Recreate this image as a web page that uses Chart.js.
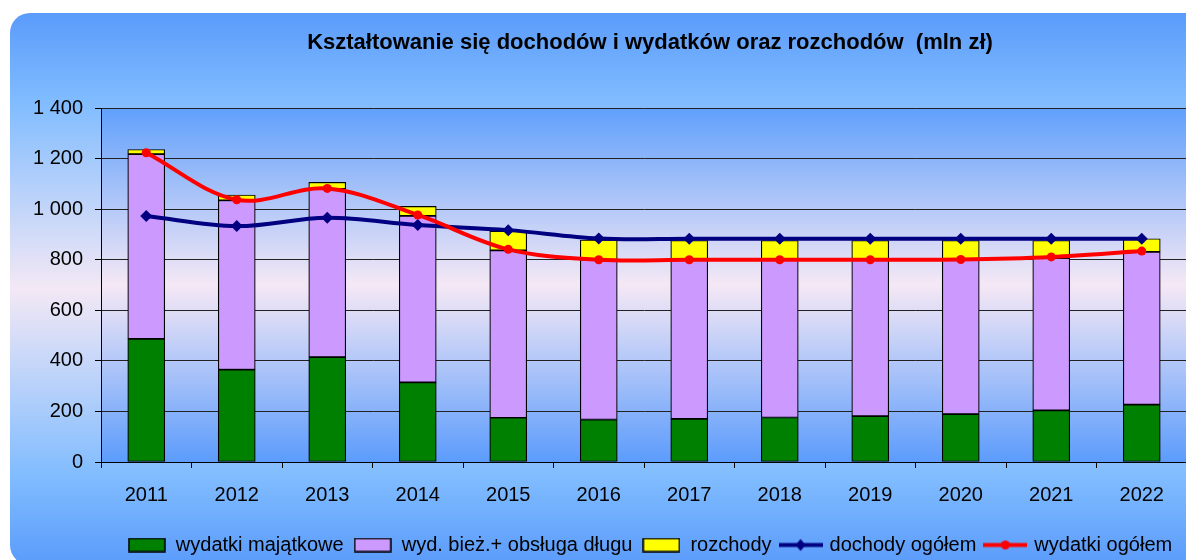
<!DOCTYPE html>
<html>
<head>
<meta charset="utf-8">
<script src="https://cdn.jsdelivr.net/npm/chart.js@4.4.1/dist/chart.umd.min.js"></script>
<style>
  html, body { margin: 0; padding: 0; background: #fff; overflow: hidden; }
  #wrap { width: 1186px; height: 560px; overflow: hidden; }
</style>
</head>
<body>
<div id="wrap"><canvas id="chart" width="1300" height="565"></canvas></div>
<script>
/* global Chart */

const years = ['2011', '2012', '2013', '2014', '2015', '2016', '2017', '2018', '2019', '2020', '2021', '2022'];
const majatkowe = [487, 365, 415, 315, 175, 168, 171, 176, 181, 189, 204, 227];
const biezace = [731, 670, 665, 658, 662, 632, 629, 624, 619, 611, 602, 604];
const rozchody = [18, 21, 26, 38, 76, 78, 76, 76, 76, 76, 70, 52];
const dochody = [973, 933, 966, 937, 917, 884, 883, 883, 883, 883, 883, 883];
const wydatki = [1223, 1037, 1082, 977, 841, 800, 800, 800, 800, 801, 811, 834];
const yTicks = [0, 200, 400, 600, 800, 1000, 1200, 1400];

const FONT = "'Liberation Sans', Arial, sans-serif";

function fmt(v) {
  return String(v).replace(/\B(?=(\d{3})+(?!\d))/g, ' ');
}

// small canvases used as legend symbols
function barIcon(color) {
  const c = document.createElement('canvas');
  c.width = 38; c.height = 15;
  const x = c.getContext('2d');
  x.fillStyle = color;
  x.fillRect(1, 1, 36, 13);
  x.strokeStyle = '#000';
  x.lineWidth = 1.5;
  x.strokeRect(1, 1, 36, 13);
  return c;
}

function lineIcon(color, marker) {
  const c = document.createElement('canvas');
  c.width = 44; c.height = 15;
  const x = c.getContext('2d');
  x.strokeStyle = color;
  x.lineWidth = 4;
  x.beginPath();
  x.moveTo(0, 7.5); x.lineTo(44, 7.5);
  x.stroke();
  x.fillStyle = color;
  x.beginPath();
  if (marker === 'diamond') {
    x.moveTo(22, 1.5); x.lineTo(27, 7.5); x.lineTo(22, 13.5); x.lineTo(17, 7.5);
  } else {
    x.arc(22, 7.5, 4.5, 0, Math.PI * 2);
  }
  x.closePath();
  x.fill();
  return c;
}

const backdrop = {
  id: 'backdrop',
  beforeDraw(chart) {
    const { ctx, chartArea } = chart;
    const x0 = 10, y0 = 13, x1 = 1290, y1 = 565, r = 20;
    ctx.save();
    const g = ctx.createLinearGradient(0, y0, 0, y1);
    g.addColorStop(0, '#5b9bfb');
    g.addColorStop(0.16, '#80bcff');
    g.addColorStop(0.5, '#f3e8f5');
    g.addColorStop(0.84, '#80bcff');
    g.addColorStop(1, '#5b9bfb');
    ctx.beginPath();
    ctx.moveTo(x0 + r, y0);
    ctx.lineTo(x1 - r, y0);
    ctx.arcTo(x1, y0, x1, y0 + r, r);
    ctx.lineTo(x1, y1 - r);
    ctx.arcTo(x1, y1, x1 - r, y1, r);
    ctx.lineTo(x0 + r, y1);
    ctx.arcTo(x0, y1, x0, y1 - r, r);
    ctx.lineTo(x0, y0 + r);
    ctx.arcTo(x0, y0, x0 + r, y0, r);
    ctx.closePath();
    ctx.fillStyle = g;
    ctx.fill();

    const pg = ctx.createLinearGradient(0, chartArea.top, 0, chartArea.bottom);
    pg.addColorStop(0, '#60a0fc');
    pg.addColorStop(0.5, '#f5e8f5');
    pg.addColorStop(1, '#5c9cfc');
    ctx.fillStyle = pg;
    ctx.fillRect(chartArea.left, chartArea.top, chartArea.right - chartArea.left, chartArea.bottom - chartArea.top);
    ctx.restore();
  },
};

const barStyle = {
  type: 'bar',
  stack: 'bars',
  borderColor: '#000',
  borderWidth: 1.2,
  borderSkipped: false,
  barThickness: 37,
  order: 2,
};

const datasets = [
  { ...barStyle, label: 'wydatki majątkowe', data: majatkowe, backgroundColor: '#008000' },
  { ...barStyle, label: 'wyd. bież.+ obsługa długu', data: biezace, backgroundColor: '#cc99ff' },
  { ...barStyle, label: 'rozchody', data: rozchody, backgroundColor: '#ffff00' },
  {
    type: 'line',
    stack: 'l1',
    label: 'dochody ogółem',
    data: dochody,
    borderColor: '#000080',
    backgroundColor: '#000080',
    borderWidth: 4,
    tension: 0.35,
    pointStyle: 'rectRot',
    pointRadius: 6,
    pointBorderWidth: 0,
    order: 1,
  },
  {
    type: 'line',
    stack: 'l2',
    label: 'wydatki ogółem',
    data: wydatki,
    borderColor: '#ff0000',
    backgroundColor: '#ff0000',
    borderWidth: 4,
    tension: 0.35,
    pointStyle: 'circle',
    pointRadius: 4.5,
    pointBorderWidth: 0,
    order: 0,
  },
];

const icons = [
  barIcon('#008000'),
  barIcon('#cc99ff'),
  barIcon('#ffff00'),
  lineIcon('#000080', 'diamond'),
  lineIcon('#ff0000', 'circle'),
];

const config = {
  data: { labels: years, datasets },
  plugins: [backdrop],
  options: {
    responsive: false,
    animation: false,
    devicePixelRatio: 1,
    layout: { padding: { left: 10, right: 10, top: 0, bottom: 0 } },
    scales: {
      x: {
        type: 'category',
        stacked: true,
        offset: true,
        border: { color: '#000', width: 1 },
        grid: {
          display: true, offset: true, drawOnChartArea: false, drawTicks: true, tickLength: 6, tickColor: '#000',
        },
        ticks: { color: '#000', font: { family: FONT, size: 20 }, padding: 15, maxRotation: 0 },
        afterFit(scale) { scale.height = 63; },
      },
      y: {
        stacked: true,
        min: 0,
        max: 1400,
        afterBuildTicks(scale) { scale.ticks = yTicks.map((v) => ({ value: v })); },
        border: { color: '#000', width: 1 },
        grid: {
          color: '#222', lineWidth: 1, drawTicks: true, tickLength: 6, tickColor: '#000',
        },
        ticks: {
          color: '#000', font: { family: FONT, size: 20 }, padding: 12, callback: fmt,
        },
        afterFit(scale) { scale.width = 91; },
      },
      y2: {
        position: 'right',
        display: true,
        grid: { display: false },
        border: { display: false },
        ticks: { display: false },
        afterFit(scale) { scale.width = 103; },
      },
    },
    plugins: {
      tooltip: { enabled: false },
      title: {
        display: true,
        text: 'Kształtowanie się dochodów i wydatków oraz rozchodów  (mln zł)',
        color: '#000',
        font: { family: FONT, size: 22, weight: 'bold' },
        padding: { top: 30, bottom: 51.6 },
      },
      legend: {
        position: 'bottom',
        labels: {
          usePointStyle: true,
          pointStyleWidth: 38,
          boxHeight: 14,
          padding: 10,
          color: '#000',
          font: { family: FONT, size: 20 },
          generateLabels(chart) {
            return chart.data.datasets.map((ds, i) => ({
              text: ds.label,
              pointStyle: icons[i],
              fillStyle: ds.backgroundColor,
              strokeStyle: ds.borderColor,
              lineWidth: 0,
              hidden: false,
              datasetIndex: i,
              fontColor: '#000',
            }));
          },
        },
      },
    },
  },
};

new Chart(document.getElementById('chart'), config);
</script>
</body>
</html>
